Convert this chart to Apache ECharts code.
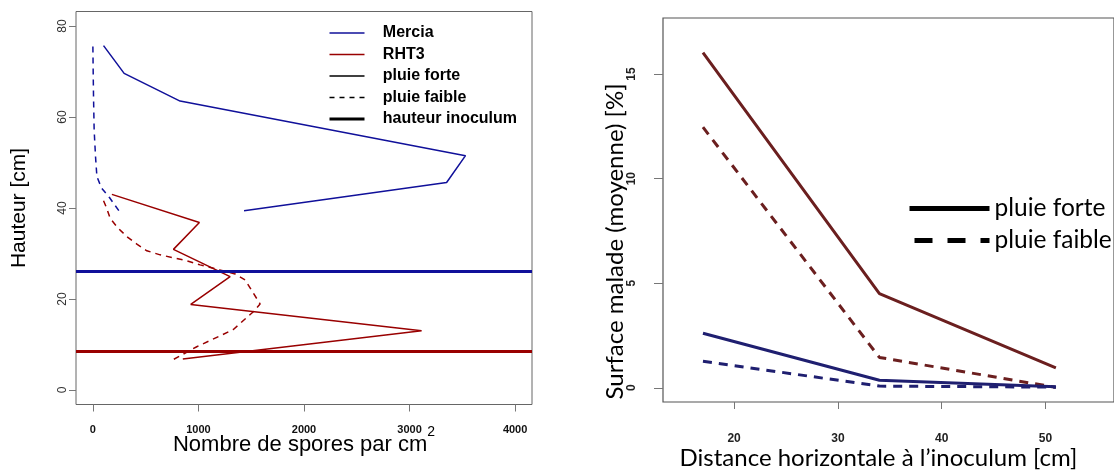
<!DOCTYPE html>
<html><head><meta charset="utf-8">
<script src="https://cdn.jsdelivr.net/npm/echarts@6/dist/echarts.min.js"></script>
<style>html,body{margin:0;padding:0;background:#fff}#c{width:1114px;height:475px}</style>
</head><body><div id="c"></div>
<script>
// ---------- Left chart: spores vs height ----------
const merciaForteHeight = [75.7, 69.6, 63.5, 51.5, 45.6, 39.4];
const merciaForteSpores = [101, 296, 826, 3530, 3351, 1432];
const merciaFaibleHeight = [75.5, 69.6, 64.5, 57.1, 51.3, 46.9, 44.4, 42.3, 39.2];
const merciaFaibleSpores = [0, 3, 6, 12, 25, 38, 82, 157, 252];
const rht3ForteHeight = [43.0, 36.8, 30.9, 24.9, 18.8, 13.0, 6.8];
const rht3ForteSpores = [180, 1009, 763, 1300, 927, 3114, 852];
const rht3FaibleHeight = [41.6, 40, 37.7, 35.8, 33.7, 32, 30.6, 29.7, 28.4, 27.5, 26.4, 25.5, 24.2, 18.9, 17.2, 13.3, 11.9, 9.5, 6.7];
const rht3FaibleSpores = [101, 130, 164, 230, 322, 420, 511, 637, 890, 1016, 1200, 1347, 1442, 1584, 1520, 1331, 1205, 984, 763];
const inoculumHeight = [26, 8.4]; // Mercia, RHT3
const sporeTicks = [0, 1000, 2000, 3000, 4000];
const heightTicks = [0, 20, 40, 60, 80];
const leftLegendNames = ['Mercia', 'RHT3', 'pluie forte', 'pluie faible', 'hauteur inoculum'];

// ---------- Right chart: diseased surface vs distance ----------
const distances = [17, 34, 51];
const merciaForteSurf = [2.61, 0.36, 0.05];
const merciaFaibleSurf = [1.27, 0.08, 0.03];
const rht3ForteSurf = [16.02, 4.5, 0.95];
const rht3FaibleSurf = [12.46, 1.45, 0.02];
const distanceTicks = [20, 30, 40, 50];
const surfTicks = [0, 5, 10, 15];
const rightLegendNames = ['pluie forte ', 'pluie faible '];

const BLUE = '#10109a', RED = '#990000';
const NAVY = '#1f1f70', MAROON = '#6b1f1f';
const zip = (xs, ys) => xs.map((x, i) => [x, ys[i]]);
const plain = v => String(v);

const chart = echarts.init(document.getElementById('c'), null, {renderer: 'canvas'});

function lineSeries(name, xi, data, color, width, type) {
  return {name, type: 'line', xAxisIndex: xi, yAxisIndex: xi, data, symbol: 'none',
    lineStyle: {color, width, type}, itemStyle: {color}, silent: true, animation: false};
}
function legendSeries(name, xi, color, width, type) {
  return {name, type: 'line', xAxisIndex: xi, yAxisIndex: xi, data: [], symbol: 'none',
    lineStyle: {color, width, type}, itemStyle: {color}};
}

const mForte = lineSeries('m forte', 0, zip(merciaForteSpores, merciaForteHeight), BLUE, 1.5, 'solid');
mForte.markLine = {silent: true, symbol: ['none', 'none'], label: {show: false},
  lineStyle: {color: BLUE, width: 3, type: 'solid'}, data: [{yAxis: inoculumHeight[0]}], animation: false};
const rForte = lineSeries('r forte', 0, zip(rht3ForteSpores, rht3ForteHeight), RED, 1.5, 'solid');
rForte.markLine = {silent: true, symbol: ['none', 'none'], label: {show: false},
  lineStyle: {color: RED, width: 3, type: 'solid'}, data: [{yAxis: inoculumHeight[1]}], animation: false};

const leftLegendStyles = [
  {color: BLUE, width: 1.5, type: 'solid'},
  {color: RED, width: 1.5, type: 'solid'},
  {color: '#000', width: 1.5, type: 'solid'},
  {color: '#000', width: 1.5, type: [5, 5]},
  {color: '#000', width: 3, type: 'solid'}
];
const rightLegendStyles = [
  {color: '#000', width: 5, type: 'solid'},
  {color: '#000', width: 5, type: [18, 15], dashOffset: 28}
];

const axisCommon = {axisLine: {show: false, onZero: false}, splitLine: {show: false}, nameMoveOverlap: false};

const option = {
  backgroundColor: '#fff',
  animation: false,
  grid: [
    {left: 76, top: 11.5, width: 456, height: 393, show: true, borderColor: '#666', borderWidth: 1, backgroundColor: 'transparent'},
    {left: 663, top: 18, width: 461, height: 387, show: true, borderColor: '#555', borderWidth: 1.2, backgroundColor: 'transparent'}
  ],
  xAxis: [
    Object.assign({type: 'value', gridIndex: 0, min: -160, max: 4160,
      axisTick: {show: true, length: 7, lineStyle: {color: '#777'}, customValues: sporeTicks},
      axisLabel: {customValues: sporeTicks, formatter: plain, margin: 20, fontFamily: 'Liberation Sans', fontWeight: 'bold', fontSize: 11, color: '#111'},
      name: '{m|Nombre de spores par cm}{s|2}', nameLocation: 'middle', nameGap: 21,
      nameTextStyle: {rich: {
        m: {fontFamily: 'Liberation Sans', fontSize: 22, color: '#000', verticalAlign: 'bottom'},
        s: {fontFamily: 'Liberation Sans', fontSize: 14, color: '#000', verticalAlign: 'top', padding: [0, 0, 16, 0]}
      }}}, axisCommon),
    Object.assign({type: 'value', gridIndex: 1, min: 13.15, max: 56.6,
      axisTick: {show: true, length: 7, lineStyle: {color: '#777'}, customValues: distanceTicks},
      axisLabel: {customValues: distanceTicks, formatter: plain, margin: 31, fontFamily: 'Liberation Sans', fontWeight: 'bold', fontSize: 12, color: '#222'},
      name: 'Distance horizontale à l\u2019inoculum [cm]', nameLocation: 'middle', nameGap: 44,
      nameTextStyle: {fontFamily: 'Lato', fontSize: 24, color: '#000', padding: [0, 20, 0, 0]}}, axisCommon)
  ],
  yAxis: [
    Object.assign({type: 'value', gridIndex: 0, min: -3.2, max: 83.2,
      axisTick: {show: true, length: 7, lineStyle: {color: '#777'}, customValues: heightTicks},
      axisLabel: {customValues: heightTicks, formatter: plain, rotate: 90, margin: 7, fontFamily: 'Liberation Sans', fontSize: 12, color: '#333'},
      name: 'Hauteur [cm]', nameLocation: 'middle', nameRotate: 90, nameGap: 46,
      nameTextStyle: {fontFamily: 'Liberation Sans', fontSize: 21, color: '#000'}}, axisCommon),
    Object.assign({type: 'value', gridIndex: 1, min: -0.68, max: 17.68,
      axisTick: {show: true, length: 9, lineStyle: {color: '#777'}, customValues: surfTicks},
      axisLabel: {customValues: surfTicks, formatter: plain, rotate: 90, margin: 25, fontFamily: 'Liberation Sans', fontWeight: 'bold', fontSize: 12, color: '#222'},
      name: 'Surface malade (moyenne) [%]', nameLocation: 'middle', nameRotate: 90, nameGap: 36,
      nameTextStyle: {fontFamily: 'Lato', fontSize: 24, color: '#000', padding: [0, 63, 0, 0]}}, axisCommon)
  ],
  legend: [
    {left: 328, top: 25, padding: 0, orient: 'vertical', itemWidth: 35, itemHeight: 14, itemGap: 5.5,
      selectedMode: false, itemStyle: {opacity: 0},
      formatter: n => '   ' + n,
      textStyle: {fontFamily: 'Liberation Sans', fontWeight: 'bold', fontSize: 16, color: '#000'},
      data: leftLegendNames.map((n, i) => ({name: n, lineStyle: leftLegendStyles[i], itemStyle: {opacity: 0}}))},
    {left: 907, top: 196, padding: 0, orient: 'vertical', itemWidth: 80, itemHeight: 14, itemGap: 7,
      selectedMode: false, itemStyle: {opacity: 0},
      textStyle: {fontFamily: 'Lato', fontSize: 24.5, color: '#000'},
      data: rightLegendNames.map((n, i) => ({name: n, lineStyle: rightLegendStyles[i], itemStyle: {opacity: 0}}))}
  ],
  series: [
    lineSeries('m faible', 0, zip(merciaFaibleSpores, merciaFaibleHeight), BLUE, 1.5, [6, 5]),
    lineSeries('r faible', 0, zip(rht3FaibleSpores, rht3FaibleHeight), RED, 1.5, [6, 5]),
    mForte, rForte,
    legendSeries(leftLegendNames[0], 0, BLUE, 1.5, 'solid'),
    legendSeries(leftLegendNames[1], 0, RED, 1.5, 'solid'),
    legendSeries(leftLegendNames[2], 0, '#000', 1.5, 'solid'),
    legendSeries(leftLegendNames[3], 0, '#000', 1.5, [5, 5]),
    legendSeries(leftLegendNames[4], 0, '#000', 3, 'solid'),
    lineSeries('rht3 forte surf', 1, zip(distances, rht3ForteSurf), MAROON, 3, 'solid'),
    lineSeries('rht3 faible surf', 1, zip(distances, rht3FaibleSurf), MAROON, 3, [9, 7]),
    lineSeries('mercia forte surf', 1, zip(distances, merciaForteSurf), NAVY, 3, 'solid'),
    lineSeries('mercia faible surf', 1, zip(distances, merciaFaibleSurf), NAVY, 3, [9, 7]),
    legendSeries(rightLegendNames[0], 1, '#000', 5, 'solid'),
    legendSeries(rightLegendNames[1], 1, '#000', 5, [18, 15])
  ]
};
chart.setOption(option);
</script></body></html>
